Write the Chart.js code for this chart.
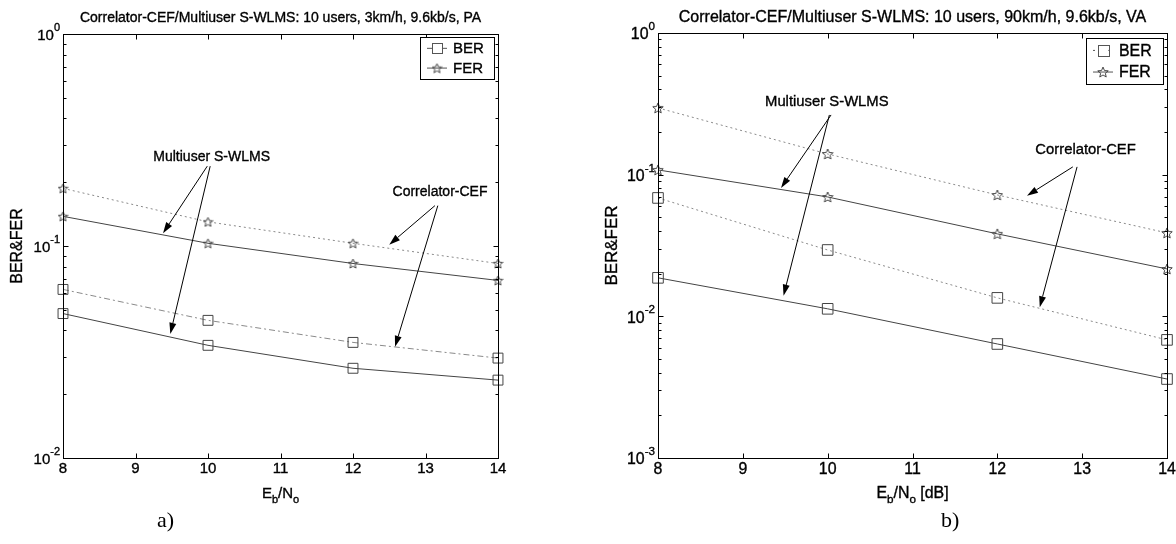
<!DOCTYPE html>
<html>
<head>
<meta charset="utf-8">
<script src="https://cdn.jsdelivr.net/npm/chart.js@4"></script>
<style>
  body { margin: 0; background: #fff; }
  #wrap { position: relative; width: 1176px; height: 544px; }
  canvas { position: absolute; top: 0; }
  .lbl { position: absolute; font-family: "Liberation Serif", "Times New Roman", serif; font-size: 22px; line-height: 22px; color: #000; }
</style>
</head>
<body>
<div id="wrap">
  <canvas id="chartA" width="588" height="544" style="left:0"></canvas>
  <canvas id="chartB" width="588" height="544" style="left:588px"></canvas>
  <div class="lbl" style="left:157px; top:509px">a)</div>
  <div class="lbl" style="left:941px; top:509px">b)</div>
</div>
<script>
// Eb/No points [dB]
const ebno = [8, 10, 12, 14];
const xTicks = [8, 9, 10, 11, 12, 13, 14];

// a) 10 users, 3km/h, PA
const berSwlmsA = [0.048, 0.034, 0.0265, 0.0233];
const berCorrA = [0.0624, 0.0446, 0.0351, 0.0296];
const ferSwlmsA = [0.138, 0.103, 0.0827, 0.0688];
const ferCorrA = [0.187, 0.130, 0.103, 0.0827];
const yTicksA = [0.01, 0.1, 1];

// b) 10 users, 90km/h, VA
const berSwlmsB = [0.0187, 0.0113, 0.00638, 0.00361];
const berCorrB = [0.0685, 0.0294, 0.0135, 0.00682];
const ferSwlmsB = [0.108, 0.0696, 0.0382, 0.0216];
const ferCorrB = [0.296, 0.140, 0.0719, 0.0388];
const yTicksB = [0.001, 0.01, 0.1, 1];

const titleA = "Correlator-CEF/Multiuser S-WLMS: 10 users, 3km/h, 9.6kb/s, PA";
const titleB = "Correlator-CEF/Multiuser S-WLMS: 10 users, 90km/h, 9.6kb/s, VA";
const legendNames = ["BER", "FER"];

const FONT = '"Liberation Sans", Arial, Helvetica, sans-serif';
const font = (s) => s + "px " + FONT;

function starCanvas(size, color) {
  const c = document.createElement("canvas");
  c.width = c.height = size;
  const g = c.getContext("2d");
  const cx = size / 2, cy = size / 2 + 0.5, R = size / 2 - 0.5, r = R * 0.45;
  g.beginPath();
  for (let i = 0; i < 10; i++) {
    const a = -Math.PI / 2 + i * Math.PI / 5;
    const rr = i % 2 ? r : R;
    g.lineTo(cx + rr * Math.cos(a), cy + rr * Math.sin(a));
  }
  g.closePath();
  g.strokeStyle = color;
  g.lineWidth = 1;
  g.stroke();
  return c;
}

function arrow(ctx, x1, y1, x2, y2) {
  const ang = Math.atan2(y2 - y1, x2 - x1);
  const len = 11, hw = 3.5;
  const bx = x2 - len * Math.cos(ang), by = y2 - len * Math.sin(ang);
  ctx.beginPath();
  ctx.moveTo(x1, y1);
  ctx.lineTo(bx, by);
  ctx.stroke();
  ctx.beginPath();
  ctx.moveTo(x2, y2);
  ctx.lineTo(bx + hw * Math.sin(ang), by - hw * Math.cos(ang));
  ctx.lineTo(bx - hw * Math.sin(ang), by + hw * Math.cos(ang));
  ctx.closePath();
  ctx.fill();
}

// scanned text looks heavy, so fill + a hair of stroke
function heavyText(ctx, t, x, y) {
  ctx.fillText(t, x, y);
  ctx.lineWidth = 0.35;
  ctx.strokeText(t, x, y);
  ctx.lineWidth = 1;
}

function makeLook(p) {
  return {
    id: "matlabLook",
    afterDatasetsDraw(chart) {
      const ctx = chart.ctx, a = chart.chartArea;
      const xs = chart.scales.x, ys = chart.scales.y;
      const k = p.k;
      ctx.save();
      ctx.strokeStyle = "#000";
      ctx.fillStyle = "#000";
      ctx.lineWidth = 1;
      const L = Math.round(a.left) + 0.5, R = Math.round(a.right) + 0.5;
      const T = Math.round(a.top) + 0.5, B = Math.round(a.bottom) + 0.5;
      ctx.strokeRect(L, T, R - L, B - T);

      // ticks on all four sides
      ctx.beginPath();
      xTicks.forEach(v => {
        const px = Math.round(xs.getPixelForValue(v)) + 0.5;
        ctx.moveTo(px, B); ctx.lineTo(px, B - 5);
        ctx.moveTo(px, T); ctx.lineTo(px, T + 5);
      });
      p.yTicks.forEach((d, i) => {
        const py = Math.round(ys.getPixelForValue(d)) + 0.5;
        ctx.moveTo(L, py); ctx.lineTo(L + 5, py);
        ctx.moveTo(R, py); ctx.lineTo(R - 5, py);
        if (i < p.yTicks.length - 1) {
          for (let m = 2; m < 10; m++) {
            const pm = Math.round(ys.getPixelForValue(d * m)) + 0.5;
            ctx.moveTo(L, pm); ctx.lineTo(L + 3, pm);
            ctx.moveTo(R, pm); ctx.lineTo(R - 3, pm);
          }
        }
      });
      ctx.stroke();

      // x tick labels
      ctx.font = font(15 * k);
      ctx.textAlign = "center";
      ctx.textBaseline = "top";
      xTicks.forEach(v => heavyText(ctx, String(v), xs.getPixelForValue(v), B + 3));

      // y tick labels 10^n
      p.yTicks.forEach(d => {
        const py = ys.getPixelForValue(d);
        const ex = String(Math.round(Math.log10(d)));
        ctx.font = font(11 * k);
        const we = ctx.measureText(ex).width;
        ctx.font = font(15 * k);
        const wb = ctx.measureText("10").width;
        const x0 = a.left - 3 - we - wb;
        ctx.textAlign = "left";
        ctx.textBaseline = "middle";
        heavyText(ctx, "10", x0, py + 2);
        ctx.font = font(11 * k);
        heavyText(ctx, ex, x0 + wb, py - 6 * k);
      });

      // y title
      ctx.save();
      ctx.translate(p.yTitleX, (a.top + a.bottom) / 2);
      ctx.rotate(-Math.PI / 2);
      ctx.font = font(16 * k);
      ctx.textAlign = "center";
      ctx.textBaseline = "middle";
      heavyText(ctx, "BER&FER", 0, 0);
      ctx.restore();

      // x title with subscripts
      const parts = [["E", 0], ["b", 1], ["/N", 0], ["o", 1], [p.xUnit, 0]];
      let tw = 0;
      parts.forEach(([t, s]) => { ctx.font = font((s ? 11 : 15) * k); tw += ctx.measureText(t).width; });
      let cx = (a.left + a.right) / 2 - tw / 2;
      const ty = B + 35;
      ctx.textAlign = "left";
      ctx.textBaseline = "middle";
      parts.forEach(([t, s]) => {
        ctx.font = font((s ? 11 : 15) * k);
        heavyText(ctx, t, cx, s ? ty + 6 : ty);
        cx += ctx.measureText(t).width;
      });

      // title
      ctx.font = font(p.titleSize);
      ctx.textAlign = "center";
      heavyText(ctx, p.title, (a.left + a.right) / 2, 18);

      // legend
      const lb = p.legendBox;
      ctx.fillStyle = "#fff";
      ctx.fillRect(lb[0], lb[1], lb[2], lb[3]);
      ctx.fillStyle = "#000";
      ctx.strokeRect(lb[0] + 0.5, lb[1] + 0.5, lb[2], lb[3]);
      const rows = [lb[1] + lb[3] * 0.27, lb[1] + lb[3] * 0.74];
      const sx = lb[0] + 7, ex2 = lb[0] + 27, mx = (sx + ex2) / 2;
      ctx.strokeStyle = "#555";
      ctx.setLineDash(p.corrDash);
      ctx.beginPath(); ctx.moveTo(sx, rows[0]); ctx.lineTo(ex2, rows[0]); ctx.stroke();
      ctx.setLineDash([]);
      ctx.beginPath(); ctx.moveTo(sx, rows[1]); ctx.lineTo(ex2, rows[1]); ctx.stroke();
      const sq = p.sqRadius * Math.SQRT1_2;
      ctx.fillStyle = "#fff";
      ctx.fillRect(mx - sq, rows[0] - sq, 2 * sq, 2 * sq);
      ctx.strokeRect(Math.round(mx - sq) + 0.5, Math.round(rows[0] - sq) + 0.5, Math.round(2 * sq), Math.round(2 * sq));
      ctx.drawImage(p.star, mx - p.star.width / 2, rows[1] - p.star.height / 2);
      ctx.fillStyle = "#000";
      ctx.strokeStyle = "#000";
      ctx.font = font(15 * k);
      ctx.textAlign = "left";
      ctx.textBaseline = "middle";
      legendNames.forEach((n, i) => heavyText(ctx, n, lb[0] + 33, rows[i] + 1));

      // annotations
      p.notes.forEach(n => {
        ctx.font = font(14 * k);
        ctx.textAlign = "center";
        ctx.textBaseline = "middle";
        heavyText(ctx, n.text, xs.getPixelForValue(n.at[0]), ys.getPixelForValue(n.at[1]));
        n.arrows.forEach(ar => arrow(ctx,
          xs.getPixelForValue(ar[0]), ys.getPixelForValue(ar[1]),
          xs.getPixelForValue(ar[2]), ys.getPixelForValue(ar[3])));
      });
      ctx.restore();
    }
  };
}

function series(values, color, dash, style, radius) {
  return {
    data: ebno.map((x, i) => ({ x: x, y: values[i] })),
    borderColor: color,
    borderWidth: 1,
    borderDash: dash,
    pointStyle: style,
    pointRadius: radius,
    pointBorderColor: "#444",
    pointBackgroundColor: "rgba(0,0,0,0)",
    pointBorderWidth: 1,
    tension: 0,
    clip: false
  };
}

function drawPanel(p) {
  new Chart(document.getElementById(p.id), {
    type: "line",
    data: {
      datasets: [
        series(p.ferCorr, "#8a8a8a", [2, 3], p.star, 5),
        series(p.ferSwlms, "#444", [], p.star, 5),
        series(p.berCorr, "#8a8a8a", p.corrDash, "rect", p.sqRadius),
        series(p.berSwlms, "#444", [], "rect", p.sqRadius)
      ]
    },
    options: {
      responsive: false,
      animation: false,
      devicePixelRatio: 1,
      layout: { padding: p.pad },
      plugins: { legend: { display: false }, title: { display: false }, tooltip: { enabled: false } },
      scales: {
        x: { type: "linear", min: 8, max: 14, display: false },
        y: { type: "logarithmic", min: p.yTicks[0], max: 1, display: false }
      }
    },
    plugins: [makeLook(p)]
  });
}

drawPanel({
  id: "chartA", title: titleA, titleSize: 14, xUnit: "", k: 1,
  berSwlms: berSwlmsA, berCorr: berCorrA, ferSwlms: ferSwlmsA, ferCorr: ferCorrA,
  yTicks: yTicksA,
  pad: { left: 63, right: 90, top: 34, bottom: 86 },
  yTitleX: 18, sqRadius: 7, star: starCanvas(11, "#444"),
  corrDash: [6, 3, 2, 3],
  legendBox: [420, 37, 74, 42],
  notes: [
    { text: "Multiuser S-WLMS", at: [10.05, 0.262], arrows: [[9.99, 0.238, 9.38, 0.115], [10.03, 0.238, 9.48, 0.0385]] },
    { text: "Correlator-CEF", at: [13.2, 0.18], arrows: [[13.13, 0.155, 12.5, 0.1015], [13.17, 0.155, 12.58, 0.0335]] }
  ]
});

drawPanel({
  id: "chartB", title: titleB, titleSize: 16, xUnit: " [dB]", k: 1.06,
  berSwlms: berSwlmsB, berCorr: berCorrB, ferSwlms: ferSwlmsB, ferCorr: ferCorrB,
  yTicks: yTicksB,
  pad: { left: 70, right: 9, top: 33, bottom: 86 },
  yTitleX: 24, sqRadius: 7.5, star: starCanvas(12, "#444"),
  corrDash: [2, 3],
  legendBox: [498, 38, 77, 46],
  notes: [
    { text: "Multiuser S-WLMS", at: [9.99, 0.327], arrows: [[10.04, 0.264, 9.45, 0.0806], [10.02, 0.264, 9.48, 0.014]] },
    { text: "Correlator-CEF", at: [13.04, 0.150], arrows: [[12.89, 0.1135, 12.35, 0.071], [12.94, 0.1135, 12.5, 0.0116]] }
  ]
});
</script>
</body>
</html>
